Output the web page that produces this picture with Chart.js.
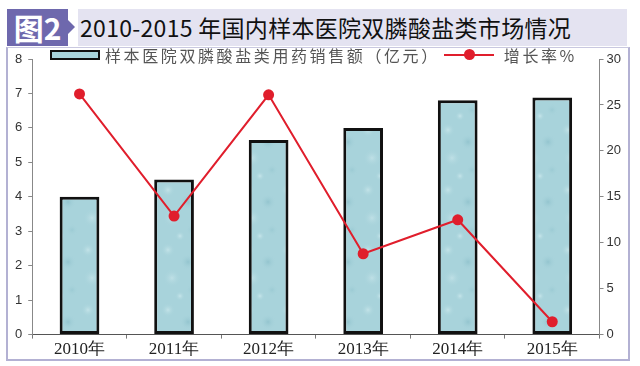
<!DOCTYPE html>
<html>
<head>
<meta charset="utf-8">
<script src="https://cdn.jsdelivr.net/npm/chart.js@4.4.1/dist/chart.umd.min.js"></script>
<style>
  body { margin: 0; width: 640px; height: 366px; background: #fff; position: relative; overflow: hidden; font-family: "Noto Sans CJK SC", sans-serif; }
  #tag { position: absolute; left: 7px; top: 9px; width: 61px; height: 37px; background: #6e68ad; color: #fff; font-weight: bold; font-size: 30px; line-height: 37px; text-align: center; }
  #chev { position: absolute; left: 68px; top: 20px; width: 0; height: 0; border-top: 7px solid transparent; border-bottom: 7px solid transparent; border-left: 7px solid #6e68ad; }
  #band { position: absolute; left: 78px; top: 9px; width: 549px; height: 37px; background: #e4e3f1; }
  #title { position: absolute; left: 80px; top: 9px; height: 37px; line-height: 37px; font-size: 23px; letter-spacing: 0.3px; color: #111; }
  #panel { position: absolute; left: 6px; top: 47px; width: 620px; height: 311px; border: 2px solid #b3b1d3; border-top: 1px solid #c9c8e0; }
  #wrap { position: absolute; left: 0; top: 0; width: 640px; height: 366px; }
  #legend { position: absolute; left: 50px; top: 46px; height: 18px; display: flex; align-items: center; font-family: "Noto Sans CJK SC", sans-serif; font-size: 16px; color: #555; letter-spacing: 2.6px; }
  .sw-bar { width: 46px; height: 6px; border: 2px solid #111; background: #a9d5dc; margin-right: 5px; }
  .sw-line { width: 50px; height: 2px; background: #e01e2c; position: relative; margin: 0 10px 0 4px; }
  .sw-line span { position: absolute; left: 20px; top: -5px; width: 11px; height: 11px; border-radius: 50%; background: #e01e2c; }
</style>
</head>
<body>
<div id="band"></div>
<div id="tag">图2</div>
<div id="chev"></div>
<div id="title">2010-2015 年国内样本医院双膦酸盐类市场情况</div>
<div id="panel"></div>
<div id="wrap"><canvas id="chart" width="640" height="366"></canvas></div>
<div id="legend"></div>
<script>
const years = ['2010年', '2011年', '2012年', '2013年', '2014年', '2015年'];
const sales = [4.0, 4.5, 5.65, 6.0, 6.8, 6.88];
const growth = [26.2, 12.9, 26.1, 8.8, 12.5, 1.4];
const salesLabel = '样本医院双膦酸盐类用药销售额（亿元）';
const growthLabel = '增长率%';

// water-like texture for the bars
function makePattern() {
    const c = document.createElement('canvas');
    c.width = 40; c.height = 60;
    const g = c.getContext('2d');
    g.fillStyle = '#a8d3db';
    g.fillRect(0, 0, 40, 60);
    const blobs = [[8, 10, 7, '#c3e3e8'], [28, 22, 8, '#94c5cf'], [12, 38, 9, '#bfe0e6'], [32, 50, 6, '#9ccbd4'], [20, 56, 5, '#c6e5ea']];
    blobs.forEach(b => {
        const r = g.createRadialGradient(b[0], b[1], 0, b[0], b[1], b[2]);
        r.addColorStop(0, b[3]);
        r.addColorStop(1, 'rgba(168,211,219,0)');
        g.fillStyle = r;
        g.fillRect(0, 0, 40, 60);
    });
    return g.createPattern(c, 'repeat');
}

const ctx = document.getElementById('chart').getContext('2d');
const chart = new Chart(ctx, {
    data: {
        labels: years,
        datasets: [{
            type: 'line',
            label: growthLabel,
            data: growth,
            yAxisID: 'y1',
            borderColor: '#e01e2c',
            backgroundColor: '#e01e2c',
            borderWidth: 2,
            pointRadius: 5.5,
            pointBackgroundColor: '#e01e2c',
            pointBorderWidth: 0,
            order: 1
        }, {
            type: 'bar',
            label: salesLabel,
            data: sales,
            yAxisID: 'y',
            backgroundColor: makePattern(),
            borderColor: '#111',
            borderWidth: 3,
            borderSkipped: false,
            barPercentage: 0.42,
            categoryPercentage: 1,
            order: 2
        }]
    },
    options: {
        responsive: false,
        animation: false,
        layout: { padding: { left: 9, right: 16, top: 59, bottom: 5 } },
        plugins: { legend: { display: false }, tooltip: { enabled: false } },
        scales: {
            x: {
                grid: { display: true, drawOnChartArea: false, offset: true, tickLength: 4, color: '#777' },
                border: { color: '#555', width: 1 },
                ticks: { color: '#222', font: { family: 'Liberation Serif', size: 17 }, padding: 1 }
            },
            y: {
                position: 'left',
                min: 0, max: 8,
                grid: { drawOnChartArea: false, tickLength: 4, color: '#888' },
                border: { color: '#888' },
                ticks: { stepSize: 1, color: '#333', font: { family: 'Liberation Sans', size: 13 }, padding: 6 }
            },
            y1: {
                position: 'right',
                min: 0, max: 30,
                grid: { drawOnChartArea: false, tickLength: 4, color: '#888' },
                border: { color: '#888' },
                ticks: { stepSize: 5, color: '#333', font: { family: 'Liberation Sans', size: 13 }, padding: 3 }
            }
        }
    }
});

// html legend built from the datasets
const legend = document.getElementById('legend');
legend.innerHTML = '<div class="sw-bar"></div><span>' + chart.data.datasets[1].label + '</span>' +
    '<div class="sw-line"><span></span></div><span>' + chart.data.datasets[0].label + '</span>';
</script>
</body>
</html>
